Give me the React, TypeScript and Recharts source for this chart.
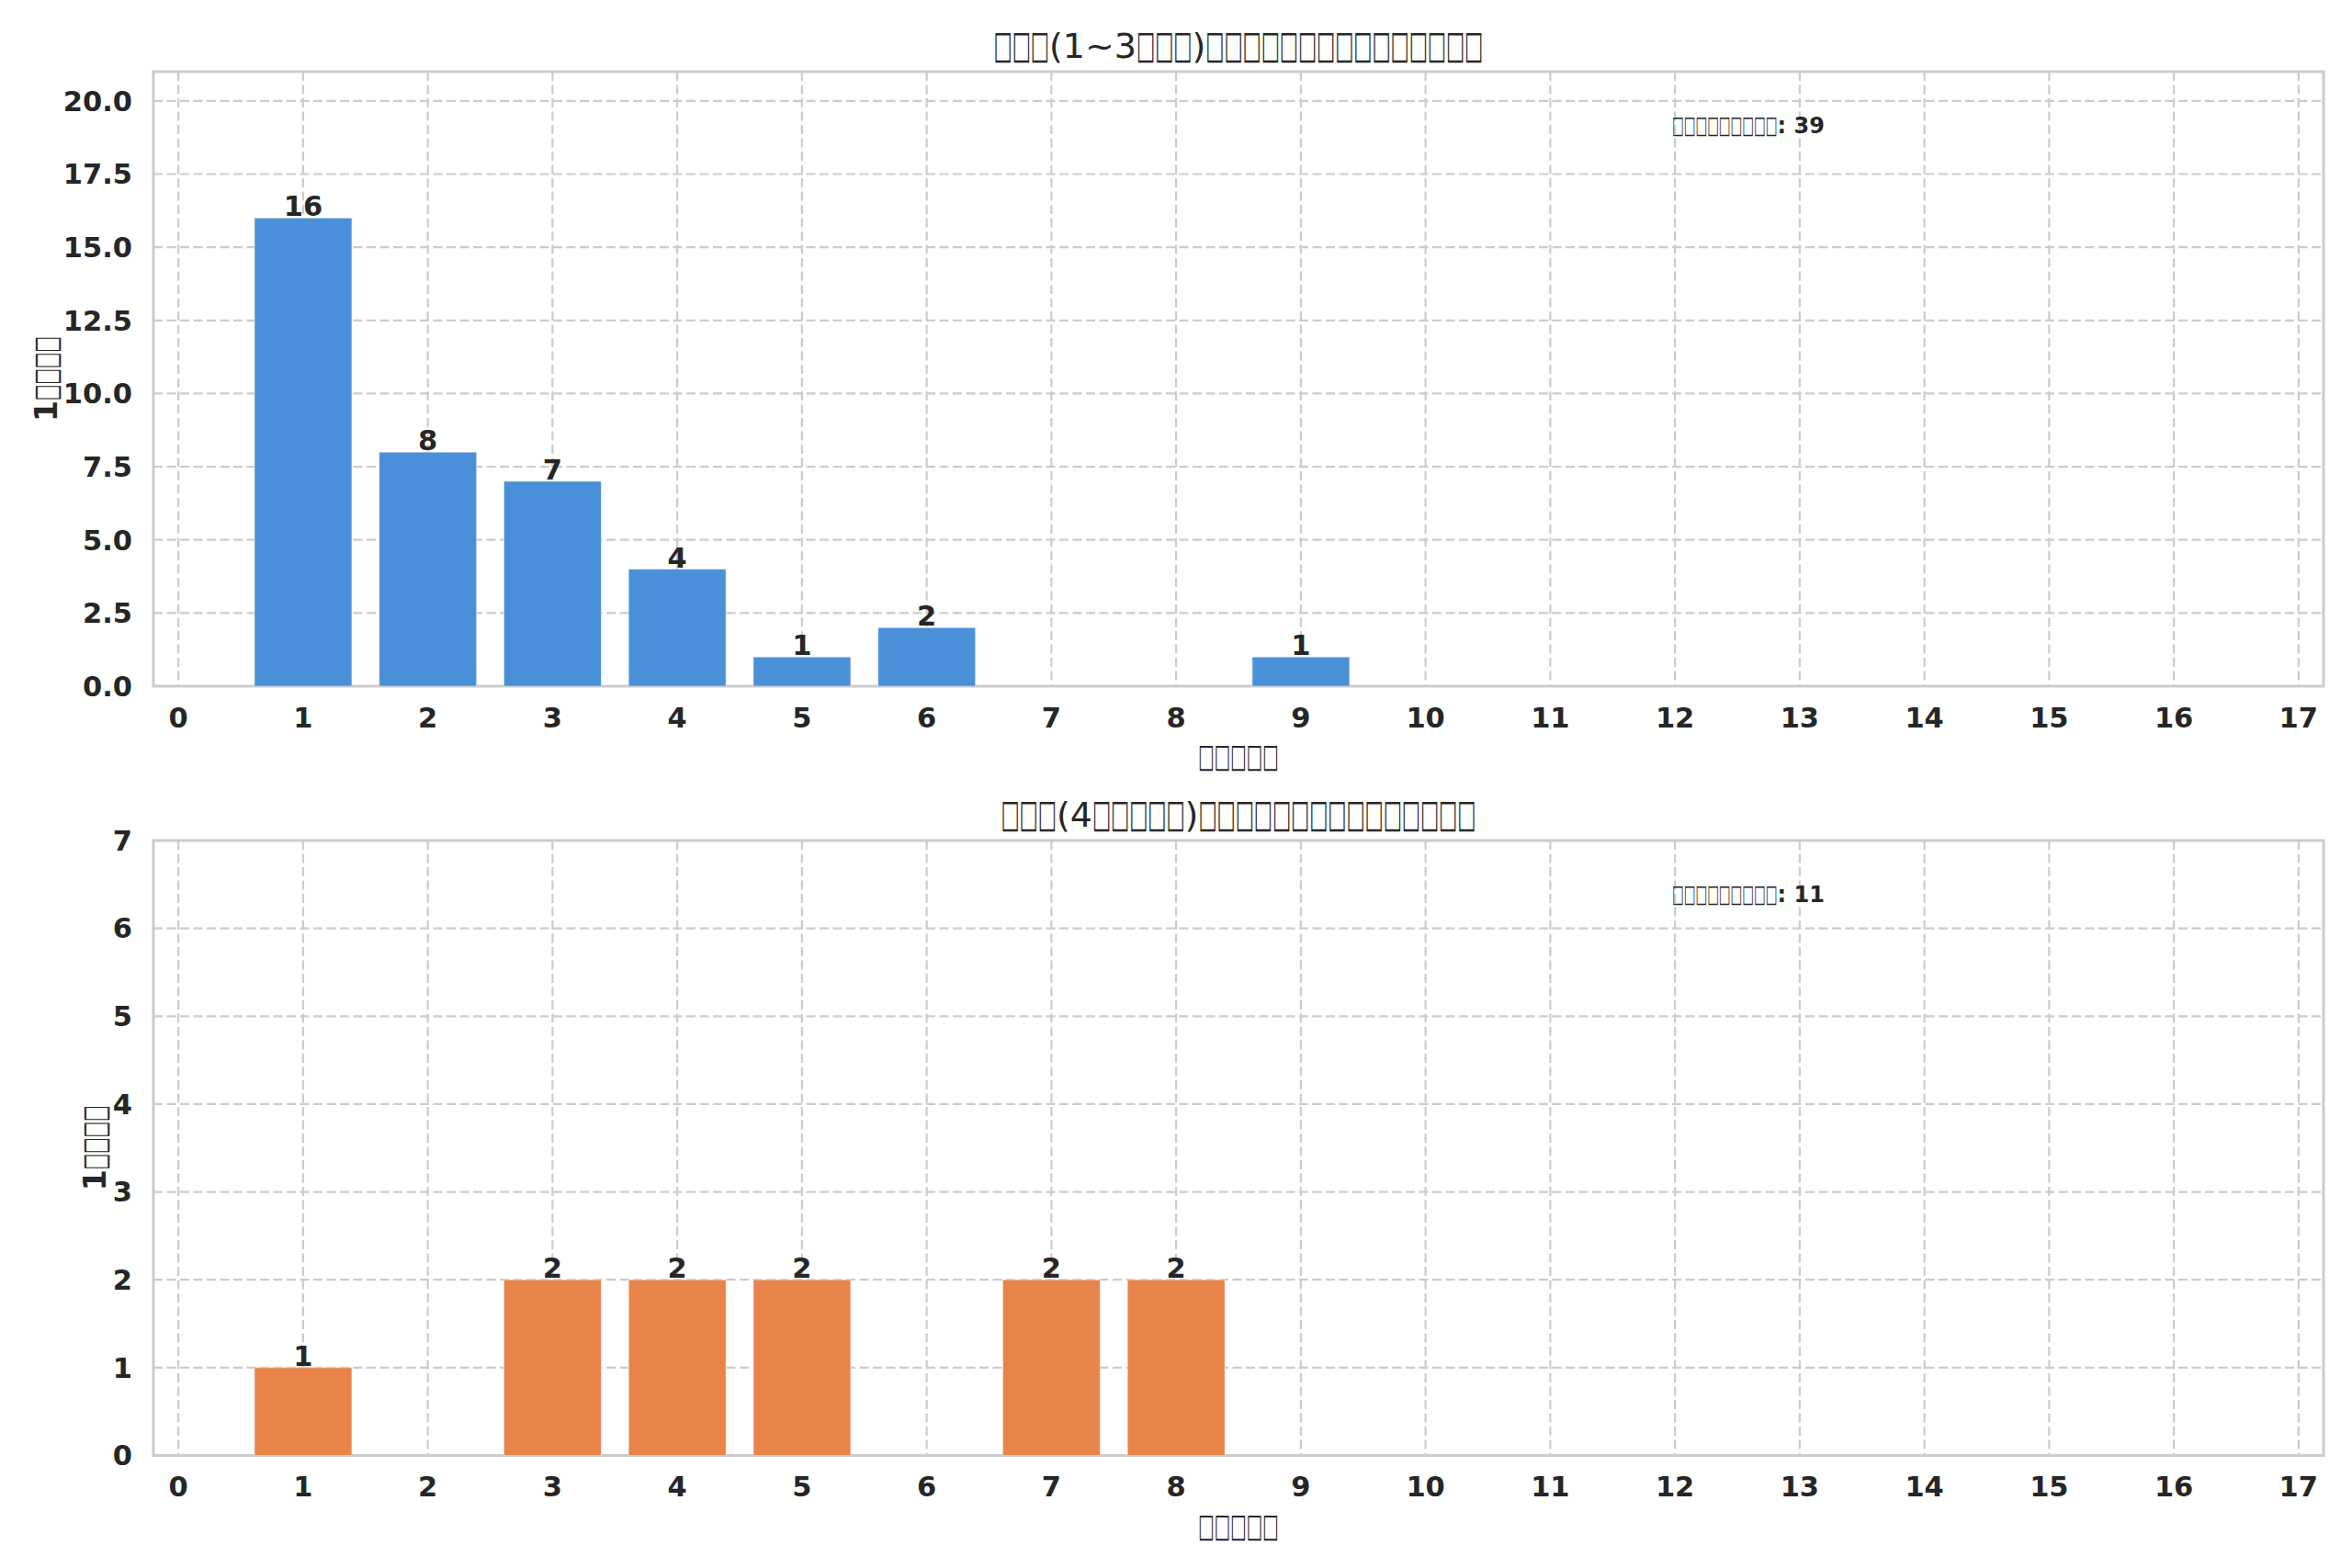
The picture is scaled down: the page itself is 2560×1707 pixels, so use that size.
import { BarChart, Bar, XAxis, YAxis, CartesianGrid, LabelList, ReferenceArea } from "recharts";

const dayTicks = [0, 1, 2, 3, 4, 5, 6, 7, 8, 9, 10, 11, 12, 13, 14, 15, 16, 17];

const lightDays = [1, 2, 3, 4, 5, 6, 9];
const lightUsers = [16, 8, 7, 4, 1, 2, 1];
const lightYTicks = [0, 2.5, 5, 7.5, 10, 12.5, 15, 17.5, 20];

const heavyDays = [1, 3, 4, 5, 7, 8];
const heavyUsers = [1, 2, 2, 2, 2, 2];
const heavyYTicks = [0, 1, 2, 3, 4, 5, 6, 7];

// the source text came out as missing-glyph boxes, kept as boxes
const lightTitle = "□□□(1~3□□□)□□□□□□□□□□□□□□□";
const heavyTitle = "□□□(4□□□□□)□□□□□□□□□□□□□□□";
const xLabel = "□□□□□";
const yLabel = "1□□□□";
const noteLabel = "□□□□□□□□□";

const FONT = "DejaVu Sans";
const INK = "#262626";
const GRID = "#cccccc";
const W = 2560;
const PLOT_LEFT = 167;
const PLOT_RIGHT = 2529;
const Y_AXIS_W = 100;
const X_AXIS_H = 100;
const X_MIN = -0.2;
const X_MAX = 17.2;

let measureCtx: CanvasRenderingContext2D | null = null;
function measure(s: string, size: number, weight: string) {
  if (!measureCtx) measureCtx = document.createElement("canvas").getContext("2d");
  if (!measureCtx) return s.length * size * 0.6;
  measureCtx.font = `${weight} ${size}px "${FONT}"`;
  return measureCtx.measureText(s).width;
}

// lays a string out in runs; runs of boxes are squeezed to look like narrow tofu glyphs
function BoxText(props: {
  x: number;
  y: number;
  text: string;
  size: number;
  weight?: string;
  anchor?: "start" | "middle";
}) {
  const weight = props.weight ?? "normal";
  const parts = props.text.split(/(□+)/).filter((s) => s.length > 0);
  const runs = parts.map((s) => {
    if (s[0] === "□") {
      const fs = props.size * 1.1;
      const want = s.length * props.size * 0.53;
      const natural = measure(s, fs, "normal");
      return { s, box: true, fs, width: want, k: want / natural };
    }
    return { s, box: false, fs: props.size, width: measure(s, props.size, weight), k: 1 };
  });
  const total = runs.reduce((a, r) => a + r.width, 0);
  let cursor = props.anchor === "middle" ? props.x - total / 2 : props.x;
  return (
    <g>
      {runs.map((r, i) => {
        const x0 = cursor;
        cursor += r.width;
        return (
          <text
            key={i}
            x={0}
            y={0}
            transform={`translate(${x0} ${props.y}) scale(${r.k} 1)`}
            fontSize={r.fs}
            fontWeight={r.box ? "normal" : weight}
          >
            {r.s}
          </text>
        );
      })}
    </g>
  );
}

type PanelProps = {
  top: number;
  height: number;
  plotTop: number;
  plotBottom: number;
  days: number[];
  users: number[];
  yMax: number;
  yTicks: number[];
  yFormat: (v: number) => string;
  color: string;
  title: string;
  yLabelX: number;
};

function Panel(p: PanelProps) {
  const data = p.days.map((d, i) => ({ day: d, users: p.users[i] }));
  const total = p.users.reduce((a, b) => a + b, 0);
  const cx = (PLOT_LEFT + PLOT_RIGHT) / 2;
  const cy = (p.plotTop + p.plotBottom) / 2;
  const tick = { fill: INK, fontSize: 30.5, fontWeight: "bold", fontFamily: FONT };
  return (
    <div style={{ position: "absolute", left: 0, top: p.top, width: W, height: p.height }}>
      <BarChart
        width={W}
        height={p.height}
        data={data}
        barCategoryGap="11%"
        margin={{
          top: p.plotTop,
          right: W - PLOT_RIGHT,
          left: PLOT_LEFT - Y_AXIS_W,
          bottom: p.height - p.plotBottom - X_AXIS_H,
        }}
      >
        <CartesianGrid stroke={GRID} strokeWidth={2.2} strokeDasharray="10 4.5" />
        <XAxis
          dataKey="day"
          type="number"
          domain={[X_MIN, X_MAX]}
          ticks={dayTicks}
          interval={0}
          height={X_AXIS_H}
          tickLine={false}
          axisLine={false}
          tickSize={0}
          tickMargin={23}
          tick={tick}
          allowDataOverflow
        />
        <YAxis
          type="number"
          domain={[0, p.yMax]}
          ticks={p.yTicks}
          interval={0}
          width={Y_AXIS_W}
          tickLine={false}
          axisLine={false}
          tickSize={0}
          tickMargin={23}
          tick={tick}
          tickFormatter={p.yFormat}
          allowDataOverflow
        />
        <Bar
          dataKey="users"
          fill={p.color}
          stroke="#ffffff"
          strokeOpacity={0.5}
          strokeWidth={1}
          isAnimationActive={false}
        >
          <LabelList
            dataKey="users"
            position="top"
            offset={2}
            fill={INK}
            fontSize={30.5}
            fontWeight="bold"
            fontFamily={FONT}
          />
        </Bar>
        <ReferenceArea
          x1={X_MIN}
          x2={X_MAX}
          y1={0}
          y2={p.yMax}
          fill="none"
          stroke={GRID}
          strokeWidth={3}
          ifOverflow="visible"
        />
      </BarChart>
      <svg
        width={W}
        height={p.height}
        style={{ position: "absolute", left: 0, top: 0, pointerEvents: "none" }}
        fontFamily={FONT}
        fill={INK}
      >
        <BoxText x={cx} y={p.plotTop - 15} text={p.title} size={38} anchor="middle" />
        <BoxText x={1820} y={p.plotTop + 67} text={`${noteLabel}: ${total}`} size={24} weight="bold" />
        <BoxText x={cx} y={p.plotBottom + 88} text={xLabel} size={33} weight="bold" anchor="middle" />
        <g transform={`rotate(-90 ${p.yLabelX} ${cy})`}>
          <BoxText x={p.yLabelX} y={cy} text={yLabel} size={33} weight="bold" anchor="middle" />
        </g>
      </svg>
    </div>
  );
}

export default function App() {
  return (
    <div style={{ position: "absolute", left: 0, top: 0, width: W, height: 1707, background: "#fff" }}>
      <Panel
        top={0}
        height={850}
        plotTop={78}
        plotBottom={747}
        days={lightDays}
        users={lightUsers}
        yMax={21}
        yTicks={lightYTicks}
        yFormat={(v) => v.toFixed(1)}
        color="#4a90d9"
        title={lightTitle}
        yLabelX={62}
      />
      <Panel
        top={850}
        height={857}
        plotTop={65}
        plotBottom={734.5}
        days={heavyDays}
        users={heavyUsers}
        yMax={7}
        yTicks={heavyYTicks}
        yFormat={(v) => String(v)}
        color="#e8844a"
        title={heavyTitle}
        yLabelX={115}
      />
    </div>
  );
}
